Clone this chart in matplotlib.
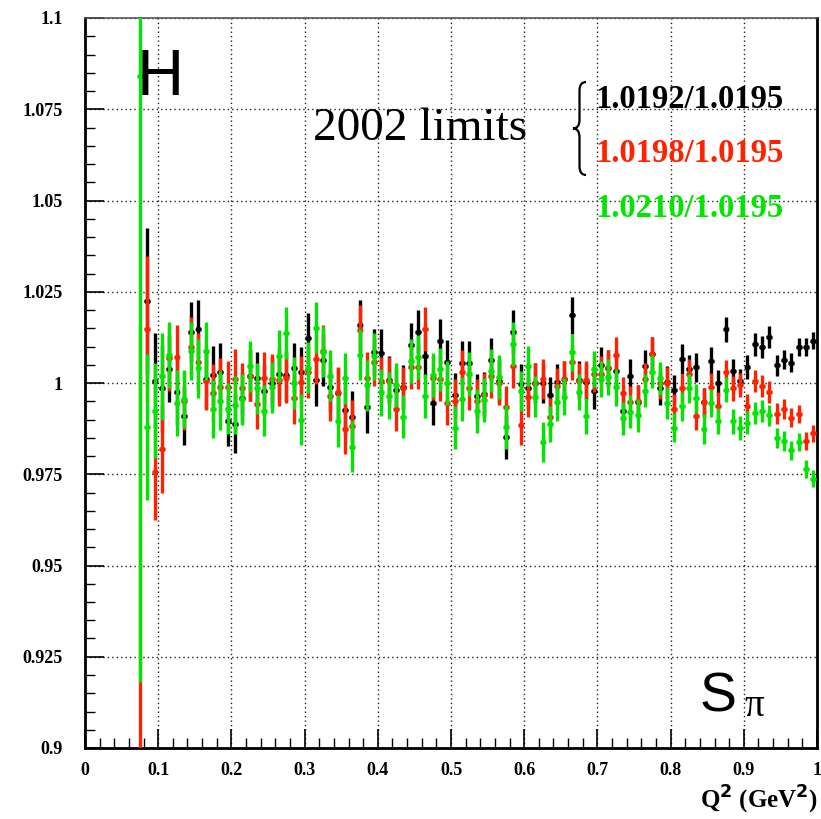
import numpy as np
import matplotlib
matplotlib.use('Agg')
import matplotlib.pyplot as plt
from matplotlib.ticker import MultipleLocator
from matplotlib.path import Path
from matplotlib.patches import PathPatch

# ---------------- data ----------------
q2 = [0.075, 0.085, 0.095, 0.105, 0.115, 0.125, 0.135, 0.145, 0.155, 0.165,
      0.175, 0.185, 0.195, 0.205, 0.215, 0.225, 0.235, 0.245, 0.255, 0.265,
      0.275, 0.285, 0.295, 0.305, 0.315, 0.325, 0.335, 0.345, 0.355, 0.365,
      0.375, 0.385, 0.395, 0.405, 0.415, 0.425, 0.435, 0.445, 0.455, 0.465,
      0.475, 0.485, 0.495, 0.505, 0.515, 0.525, 0.535, 0.545, 0.555, 0.565,
      0.575, 0.585, 0.595, 0.605, 0.615, 0.625, 0.635, 0.645, 0.655, 0.665,
      0.675, 0.685, 0.695, 0.705, 0.715, 0.725, 0.735, 0.745, 0.755, 0.765,
      0.775, 0.785, 0.795, 0.805, 0.815, 0.825, 0.835, 0.845, 0.855, 0.865,
      0.875, 0.885, 0.895, 0.905, 0.915, 0.925, 0.935, 0.945, 0.955, 0.965,
      0.975, 0.985, 0.995]

ratio_black = [np.nan, 1.0225, 1.0006, 0.9985, 1.0038, 0.9976, 0.9910, 1.0141, 1.0148, 1.0010,
               1.0021, 1.0029, 0.9897, 0.9889, 0.9960, 1.0020, 1.0015, 0.9979, 1.0001, 1.0026,
               1.0021, 1.0040, 1.0029, 1.0123, 1.0008, 1.0063, 0.9990, 0.9972, 0.9927, 0.9908,
               1.0158, 0.9933, 1.0084, 1.0083, 1.0009, 0.9982, 0.9990, 1.0105, 1.0141, 1.0075,
               0.9945, 1.0116, 1.0057, 0.9967, 1.0055, 1.0055, 0.9965, 0.9970, 1.0063, 1.0005,
               0.9851, 1.0141, 0.9997, 0.9985, 1.0000, 1.0000, 0.9967, 1.0002, 1.0011, 1.0185,
               1.0009, 1.0004, 0.9979, 1.0050, 1.0040, 1.0034, 0.9924, 1.0020, 0.9949, 1.0046,
               1.0080, 0.9985, 1.0002, 0.9982, 1.0066, 1.0037, 1.0043, 0.9947, 1.0060, 1.0000,
               1.0147, 1.0032, 1.0005, 1.0044, 1.0106, 1.0098, 1.0127, 1.0048, 1.0064, 1.0056,
               1.0098, 1.0098, 1.0116]

ratio_red = [0.8500, 1.0148, 0.9756, 0.9820, 1.0068, 1.0070, 0.9950, 1.0100, 1.0057, 1.0006,
             0.9973, 0.9989, 0.9990, 1.0012, 0.9986, 1.0020, 0.9943, 1.0014, 1.0010, 1.0008,
             1.0015, 0.9959, 1.0004, 1.0030, 1.0066, 1.0089, 0.9965, 0.9975, 0.9875, 0.9883,
             1.0144, 1.0014, 1.0057, 1.0006, 1.0006, 0.9928, 0.9985, 1.0043, 1.0043, 1.0149,
             1.0013, 1.0010, 0.9945, 0.9951, 1.0031, 0.9985, 0.9951, 0.9967, 1.0020, 1.0000,
             0.9933, 1.0046, 0.9886, 0.9961, 1.0000, 1.0011, 0.9908, 0.9991, 1.0011, 1.0057,
             1.0005, 1.0009, 1.0025, 1.0025, 1.0040, 1.0077, 0.9972, 0.9947, 0.9950, 1.0011,
             1.0080, 1.0000, 1.0000, 0.9930, 0.9985, 1.0025, 0.9910, 0.9947, 0.9990, 0.9938,
             1.0029, 0.9986, 0.9995, 0.9938, 1.0005, 0.9991, 0.9975, 0.9916, 0.9929, 0.9905,
             0.9916, 0.9841, 0.9862]

ratio_green = [1.0840, 0.9880, 0.9924, 1.0018, 1.0077, 0.9945, 0.9956, 1.0088, 1.0040, 1.0088,
               0.9929, 0.9952, 0.9929, 0.9940, 0.9956, 1.0046, 0.9986, 0.9924, 0.9988, 1.0074,
               1.0137, 1.0000, 0.9900, 1.0042, 1.0152, 1.0086, 1.0020, 0.9896, 1.0013, 0.9825,
               1.0077, 0.9994, 1.0073, 0.9974, 0.9965, 0.9994, 0.9908, 1.0061, 1.0071, 0.9965,
               1.0022, 1.0037, 1.0000, 0.9878, 0.9956, 1.0025, 0.9924, 0.9954, 1.0034, 1.0016,
               0.9880, 1.0107, 0.9979, 1.0046, 0.9963, 0.9839, 0.9888, 0.9947, 0.9963, 1.0084,
               0.9976, 0.9910, 1.0039, 1.0011, 1.0016, 0.9988, 0.9903, 0.9921, 0.9912, 0.9979,
               1.0031, 1.0013, 0.9945, 0.9878, 0.9936, 0.9985, 0.9958, 0.9874, 0.9945, 0.9895,
               0.9982, 0.9895, 0.9877, 0.9891, 0.9918, 0.9923, 0.9911, 0.9850, 0.9841, 0.9816,
               0.9838, 0.9764, 0.9738]

ratio_err = [0.166, 0.020, 0.013, 0.012, 0.009, 0.009, 0.008, 0.008, 0.008, 0.008,
             0.008, 0.008, 0.007, 0.008, 0.007, 0.007, 0.007, 0.007, 0.007, 0.007,
             0.007, 0.007, 0.007, 0.007, 0.007, 0.007, 0.007, 0.007, 0.007, 0.007,
             0.007, 0.007, 0.0065, 0.0065, 0.0065, 0.006, 0.006, 0.006, 0.006, 0.006,
             0.006, 0.006, 0.006, 0.006, 0.006, 0.006, 0.006, 0.006, 0.006, 0.006,
             0.006, 0.006, 0.0055, 0.0055, 0.0055, 0.0055, 0.005, 0.005, 0.005, 0.005,
             0.005, 0.005, 0.005, 0.005, 0.005, 0.005, 0.0045, 0.0045, 0.0045, 0.0045,
             0.0045, 0.0045, 0.0045, 0.004, 0.004, 0.004, 0.004, 0.004, 0.0038, 0.0036,
             0.0035, 0.0034, 0.0033, 0.0032, 0.0031, 0.003, 0.003, 0.0028, 0.0027, 0.0026,
             0.0025, 0.0024, 0.0023]

bin_halfwidth = 0.004

series_labels = ['1.0192/1.0195', '1.0198/1.0195', '1.0210/1.0195']
series_colors = ['#000000', '#ff2200', '#00e600']

x_tick_values = [0, 0.1, 0.2, 0.3, 0.4, 0.5, 0.6, 0.7, 0.8, 0.9, 1.0]
x_tick_labels = ['0', '0.1', '0.2', '0.3', '0.4', '0.5', '0.6', '0.7', '0.8', '0.9', '1']
y_tick_values = [0.9, 0.925, 0.95, 0.975, 1.0, 1.025, 1.05, 1.075, 1.1]
y_tick_labels = ['0.9', '0.925', '0.95', '0.975', '1', '1.025', '1.05', '1.075', '1.1']

# ---------------- figure ----------------
W, H = 821, 819
fig = plt.figure(figsize=(W / 100, H / 100), dpi=100)
fig.patch.set_facecolor('white')
ax = fig.add_axes([85 / W, 1 - 748 / H, 732 / W, 730 / H])

serif = 'Liberation Serif'
sans = 'Liberation Sans'

for vals, col, z in zip([ratio_black, ratio_red, ratio_green], series_colors, [3, 4, 5]):
    ax.errorbar(q2, vals, yerr=ratio_err, xerr=bin_halfwidth, fmt='o', ms=3.2,
                color=col, ecolor=col, elinewidth=2.4, capsize=0, zorder=z,
                clip_on=True)

ax.set_xlim(0, 1)
ax.set_ylim(0.9, 1.1)
ax.set_xticks(x_tick_values)
ax.set_xticklabels(x_tick_labels, fontfamily=serif, fontweight='bold', fontsize=13)
ax.set_yticks(y_tick_values)
ax.set_yticklabels(y_tick_labels, fontfamily=serif, fontweight='bold', fontsize=13)
ax.xaxis.set_minor_locator(MultipleLocator(0.02))
ax.yaxis.set_minor_locator(MultipleLocator(0.005))
ax.tick_params(which='both', direction='in', top=False, right=False, color='black')
ax.tick_params(which='major', length=14, width=1.2)
ax.tick_params(which='minor', length=7, width=1.0)
ax.tick_params(axis='x', pad=10)
ax.tick_params(axis='y', pad=16)

ax.grid(True, which='major', linestyle=(0, (1, 2.2)), color='#222222', linewidth=1.0, zorder=1)
ax.set_axisbelow(True)

for side in ['left', 'bottom', 'right']:
    ax.spines[side].set_linewidth(2.0)
    ax.spines[side].set_color('black')
ax.spines['top'].set_linewidth(1.2)
ax.spines['top'].set_color('#555555')

# x axis title
fig.text(818 / W, 1 - 800 / H, r'Q$^{\mathbf{2}}$ (GeV$^{\mathbf{2}}$)', ha='right', va='center',
         fontfamily=serif, fontweight='bold', fontsize=18)

# annotations
ax.text(0.071, 0.8945, 'H', transform=ax.transAxes, ha='left', va='baseline',
        fontfamily=sans, fontsize=47, color='black', zorder=6)
ax.text(0.312, 0.833, '2002 limits', transform=ax.transAxes, ha='left', va='baseline',
        fontfamily=serif, fontsize=34, color='black', zorder=6)

# curly brace drawn as a thin path (axes-fraction coordinates)
bx0, bx1 = (573 - 85) / 732, (586 - 85) / 732
bxm = 0.5 * (bx0 + bx1)
by_top, by_bot = (748 - 82) / 730, (748 - 175) / 730
by_mid = 0.5 * (by_top + by_bot)
dy = 0.012
verts = [(bx1, by_top), (bxm, by_top), (bxm, by_top - dy),
         (bxm, by_mid + dy),
         (bxm, by_mid), (bx0, by_mid),
         (bxm, by_mid), (bxm, by_mid - dy),
         (bxm, by_bot + dy),
         (bxm, by_bot), (bx1, by_bot)]
codes = [Path.MOVETO, Path.CURVE3, Path.CURVE3,
         Path.LINETO,
         Path.CURVE3, Path.CURVE3,
         Path.CURVE3, Path.CURVE3,
         Path.LINETO,
         Path.CURVE3, Path.CURVE3]
ax.add_patch(PathPatch(Path(verts, codes), transform=ax.transAxes, facecolor='none',
                       edgecolor='black', linewidth=1.6, zorder=6, clip_on=False))

label_baselines = [(748 - 108) / 730, (748 - 162) / 730, (748 - 217) / 730]
for lab, col, yb in zip(series_labels, series_colors, label_baselines):
    ax.text((595 - 85) / 732, yb, lab, transform=ax.transAxes, ha='left', va='baseline',
            fontfamily=serif, fontweight='bold', fontsize=23.5, color=col, zorder=6)

ax.text((700 - 85) / 732, (748 - 712) / 730, 'S', transform=ax.transAxes, ha='left',
        va='baseline', fontfamily=sans, fontsize=40, color='black', zorder=6)
ax.text((744 - 85) / 732, (748 - 716) / 730, 'π', transform=ax.transAxes, ha='left',
        va='baseline', fontfamily=serif, fontsize=28, color='black', zorder=6)

fig.savefig('out.png', dpi=100, facecolor='white')
